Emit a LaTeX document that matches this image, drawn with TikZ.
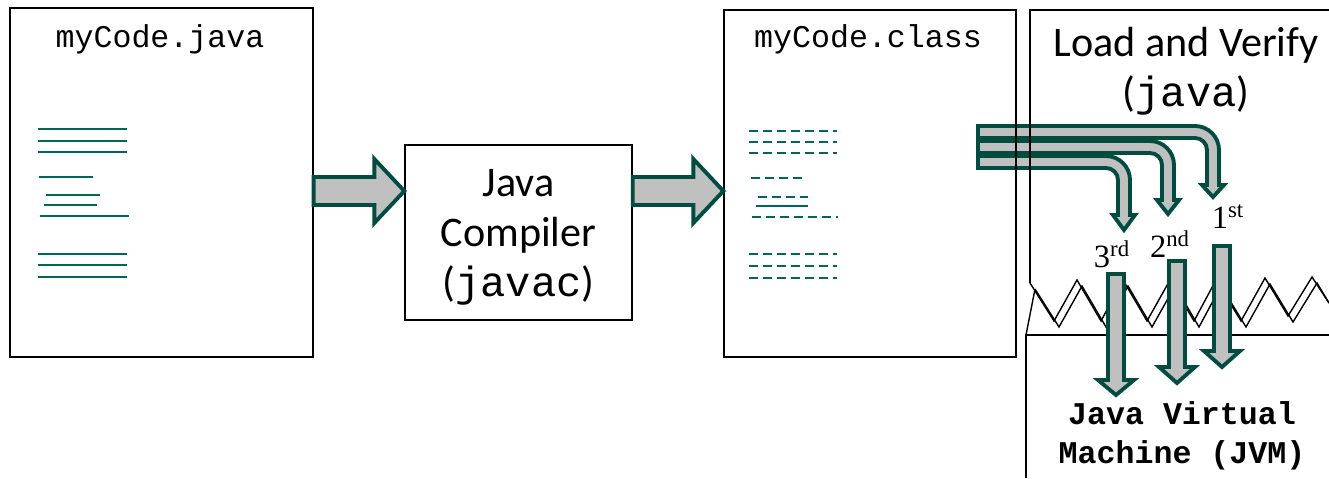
\documentclass[tikz,border=0pt]{standalone}
\usepackage{fontspec}
\setmainfont{Liberation Serif}
\setsansfont{Carlito}
\setmonofont{Liberation Mono}
\usetikzlibrary{calc}
\definecolor{codeteal}{RGB}{0,102,90}
\definecolor{arrowgreen}{RGB}{0,77,64}
\definecolor{arrowgray}{RGB}{192,192,192}
\begin{document}
\begin{tikzpicture}[x=0.02cm, y=-0.02cm,
    filebox/.style={draw, line width=0.8pt},
    plainline/.style={line width=0.8pt},
    codeline/.style={codeteal, line width=1.1pt},
    bytecode/.style={codeline, dash pattern=on 0.18cm off 0.1cm},
    fatarrow/.style={draw=arrowgreen, fill=arrowgray, line width=2.2pt, line join=miter},
    title/.style={font=\ttfamily\fontsize{18}{22}\selectfont, anchor=base},
    bigtext/.style={font=\sffamily\fontsize{24}{28.5}\selectfont, align=center},
    ordinal/.style={font=\rmfamily\fontsize{18.5}{22}\selectfont}]
  \useasboundingbox (0,0) rectangle (1329,478);
  % bytecode handed to the loader
  \draw[fatarrow] (978,126) -- (1195,126) .. controls (1208.25,126) and (1219,136.75) .. (1219,150) -- (1219,185) -- (1224,185) -- (1213,197) -- (1202,185) -- (1207,185) -- (1207,150) .. controls (1207,143.37) and (1201.63,138) .. (1195,138) -- (978,138) -- cycle;
  \draw[fatarrow] (978,141) -- (1150,141) .. controls (1163.25,141) and (1174,151.75) .. (1174,165) -- (1174,200) -- (1179,200) -- (1168,214) -- (1157,200) -- (1162,200) -- (1162,165) .. controls (1162,158.37) and (1156.63,153) .. (1150,153) -- (978,153) -- cycle;
  \draw[fatarrow] (978,156) -- (1106,156) .. controls (1119.25,156) and (1130,166.75) .. (1130,180) -- (1130,215) -- (1135,215) -- (1124,230) -- (1113,215) -- (1118,215) -- (1118,180) .. controls (1118,173.37) and (1112.63,168) .. (1106,168) -- (978,168) -- cycle;
  % source file
  \node[filebox, minimum width=6.06cm, minimum height=6.98cm] (src) at (161.5,182.5) {};
  \node[title] (srcname) at (160,47) {myCode.java};
  \draw[codeline] (38,129) -- (127,129);
  \draw[codeline] (38,141) -- (127,141);
  \draw[codeline] (38,152) -- (127,152);
  \draw[codeline] (39,177) -- (93,177);
  \draw[codeline] (46,195) -- (100,195);
  \draw[codeline] (44,205) -- (97,205);
  \draw[codeline] (40,216) -- (129,216);
  \draw[codeline] (38,254) -- (127,254);
  \draw[codeline] (38,265) -- (127,265);
  \draw[codeline] (38,277) -- (127,277);
  % compiler
  \node[filebox, minimum width=4.54cm, minimum height=3.5cm] (javac) at (518.5,232.5) {};
  \node[bigtext] (javactxt) at (518.5,237) {Java\\Compiler\\(\texttt{javac})};
  % class file
  \node[filebox, minimum width=5.84cm, minimum height=6.94cm] (cls) at (870,183.5) {};
  \node[title] (clsname) at (868,47) {myCode.class};
  \draw[bytecode] (749,131) -- (837,131);
  \draw[bytecode] (749,142) -- (837,142);
  \draw[bytecode] (749,153) -- (837,153);
  \draw[bytecode] (751,178) -- (802,178);
  \draw[bytecode] (758,197) -- (808,197);
  \draw[codeline] (756,206) -- (808,206);
  \draw[bytecode] (752,217) -- (838,217);
  \draw[bytecode] (749,254) -- (837,254);
  \draw[bytecode] (749,266) -- (837,266);
  \draw[bytecode] (749,278) -- (837,278);
  % compile steps
  \coordinate (a1s) at (src.east |- 0,191);
  \coordinate (a1t) at (javac.west |- 0,191);
  \coordinate (a2s) at (javac.east |- 0,191);
  \coordinate (a2t) at (cls.west |- 0,191);
  \draw[fatarrow] ($(a1s)+(0,-14)$) -- ($(a1t)+(-30,-14)$) -- ($(a1t)+(-30,-32)$) -- (a1t) -- ($(a1t)+(-30,32)$) -- ($(a1t)+(-30,14)$) -- ($(a1s)+(0,14)$) -- cycle;
  \draw[fatarrow] ($(a2s)+(0,-14)$) -- ($(a2t)+(-30,-14)$) -- ($(a2t)+(-30,-32)$) -- (a2t) -- ($(a2t)+(-30,32)$) -- ($(a2t)+(-30,14)$) -- ($(a2s)+(0,14)$) -- cycle;
  % loader and virtual machine
  \draw[plainline] (1329,10) -- (1030,10) -- (1030,283);
  \node[bigtext] (load) at (1186,71) {Load and Verify\\(\texttt{java})};
  \draw[plainline] (1030,283) -- (1054,321) -- (1077,280) -- (1101,321) -- (1123,280) -- (1147,321) -- (1170,280) -- (1194,321) -- (1216,280) -- (1241,321) -- (1265,278) -- (1288,316) -- (1312,277) -- (1329,303);
  \draw[plainline, shift={(5,6)}] (1030,283) -- (1054,321) -- (1077,280) -- (1101,321) -- (1123,280) -- (1147,321) -- (1170,280) -- (1194,321) -- (1216,280) -- (1241,321) -- (1265,278) -- (1288,316) -- (1312,277) -- (1324,297);
  \draw[plainline] (1035,289) -- (1026,335);
  \draw[plainline] (1329,335) -- (1026,335) -- (1026,478);
  \draw[fatarrow] (1108,274) -- (1124,274) -- (1124,380) -- (1134,380) -- (1116,395) -- (1098,380) -- (1108,380) -- cycle;
  \draw[fatarrow] (1169,261) -- (1185,261) -- (1185,367) -- (1195,367) -- (1177,383) -- (1159,367) -- (1169,367) -- cycle;
  \draw[fatarrow] (1214,246) -- (1230,246) -- (1230,351) -- (1240,351) -- (1222,367) -- (1204,351) -- (1214,351) -- cycle;
  \node[ordinal] (first) at (1228,217) {1\textsuperscript{st}};
  \node[ordinal] (second) at (1170,244) {2\textsuperscript{nd}};
  \node[ordinal] (third) at (1112,254) {3\textsuperscript{rd}};
  \node[font=\ttfamily\bfseries\fontsize{18}{22}\selectfont, align=center] (jvm) at (1182,436) {Java Virtual\\Machine (JVM)};
\end{tikzpicture}
\end{document}
